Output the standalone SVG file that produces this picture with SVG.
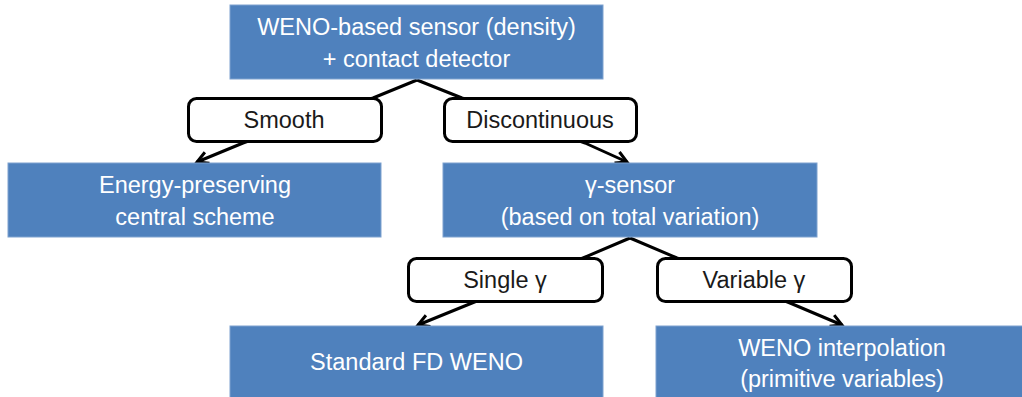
<svg xmlns="http://www.w3.org/2000/svg" width="1022" height="397" viewBox="0 0 1022 397">
<style>
.box{fill:#4F81BD;stroke:#7EA2CF;stroke-width:1}
.lbl{fill:#FFFFFF;stroke:#000000;stroke-width:3}
.wt{font-family:"Liberation Sans",Arial,sans-serif;font-size:23.5px;fill:#FFFFFF;text-anchor:middle}
.bt{font-family:"Liberation Sans",Arial,sans-serif;font-size:23.5px;fill:#1A1A1A;text-anchor:middle}
.con{fill:none;stroke:#000000;stroke-width:3;stroke-linejoin:round}
</style>
<defs>
<marker id="arr" markerUnits="userSpaceOnUse" markerWidth="16" markerHeight="16" viewBox="0 0 16 16" refX="13" refY="8" orient="auto">
<path d="M2,2 L13,8 L2,14" fill="none" stroke="#000000" stroke-width="3" stroke-linejoin="miter"/>
</marker>
</defs>
<rect width="1022" height="397" fill="#FFFFFF"/>
<g id="connectors">
<polyline class="con" points="417,80 373,98 243,143 197,162" marker-end="url(#arr)"/>
<polyline class="con" points="417,80 462,98 585,143 627,162" marker-end="url(#arr)"/>
<polyline class="con" points="630,238 583,258 472,303 418,325" marker-end="url(#arr)"/>
<polyline class="con" points="630,238 677,258 790,303 842,325" marker-end="url(#arr)"/>
</g>
<g id="n-weno-sensor">
<rect class="box" x="230" y="5" width="373" height="74"/>
<text class="wt" x="416.5" y="35">WENO-based sensor (density)</text>
<text class="wt" x="416.5" y="67">+ contact detector</text>
</g>
<g id="n-smooth">
<rect class="lbl" x="188.5" y="98.5" width="193" height="43" rx="8"/>
<text class="bt" x="284" y="128">Smooth</text>
</g>
<g id="n-discontinuous">
<rect class="lbl" x="444.5" y="98.5" width="192" height="43" rx="8"/>
<text class="bt" x="540" y="128">Discontinuous</text>
</g>
<g id="n-energy">
<rect class="box" x="8" y="163" width="373" height="74"/>
<text class="wt" x="195" y="193">Energy-preserving</text>
<text class="wt" x="195" y="225">central scheme</text>
</g>
<g id="n-gamma-sensor">
<rect class="box" x="443" y="163" width="374" height="74"/>
<text class="wt" x="630" y="193">γ-sensor</text>
<text class="wt" x="630" y="225">(based on total variation)</text>
</g>
<g id="n-single">
<rect class="lbl" x="408.5" y="258.5" width="194" height="43" rx="8"/>
<text class="bt" x="505" y="288">Single γ</text>
</g>
<g id="n-variable">
<rect class="lbl" x="657.5" y="258.5" width="194" height="43" rx="8"/>
<text class="bt" x="754" y="288">Variable γ</text>
</g>
<g id="n-standard">
<rect class="box" x="230" y="326" width="373" height="80"/>
<text class="wt" x="416.5" y="370">Standard FD WENO</text>
</g>
<g id="n-interp">
<rect class="box" x="656" y="326" width="373" height="80"/>
<text class="wt" x="842" y="356">WENO interpolation</text>
<text class="wt" x="842" y="387">(primitive variables)</text>
</g>
</svg>
